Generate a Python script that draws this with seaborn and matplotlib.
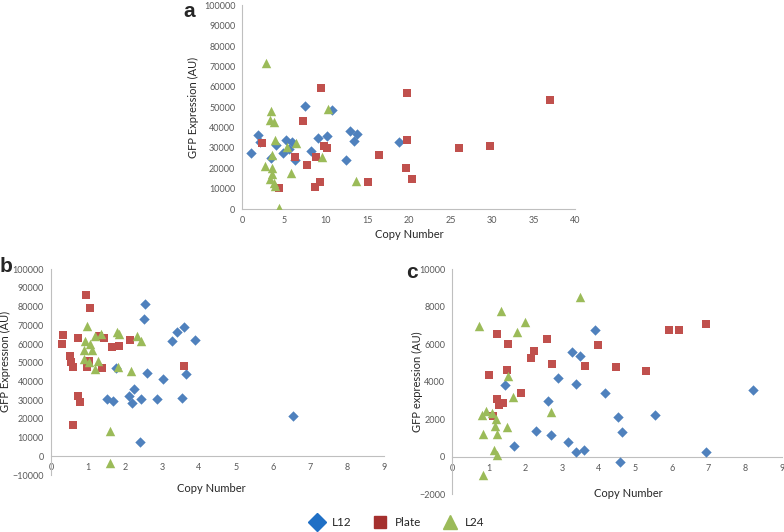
import pandas as pd
import numpy as np
import matplotlib
matplotlib.use("Agg")
import matplotlib.pyplot as plt
from matplotlib.lines import Line2D
from matplotlib.ticker import StrMethodFormatter
import seaborn as sns

# ---- data ----
series_names = ["L12", "Plate", "L24"]

# panel a
a_l12_x = [1.0, 1.9, 2.1, 3.4, 4.1, 4.9, 5.3, 5.6, 6.0, 6.3, 7.5, 8.3, 9.1, 10.2, 10.8, 12.4, 12.9, 13.4, 13.8, 18.8]
a_l12_y = [27500, 36500, 33000, 25000, 31500, 27500, 34000, 29500, 33000, 24000, 50500, 28500, 35000, 35800, 48800, 24000, 38500, 33300, 36700, 33000]
a_plate_x = [2.4, 4.4, 6.3, 7.3, 7.8, 8.8, 8.7, 9.3, 9.4, 9.8, 10.2, 15.1, 16.4, 19.6, 19.8, 19.8, 20.4, 26.0, 29.7, 37.0]
a_plate_y = [32500, 10500, 25500, 43000, 21500, 25600, 10700, 13500, 59500, 31000, 30200, 13500, 26500, 20000, 33800, 56800, 14900, 30000, 30800, 53300]
a_l24_x = [2.9, 2.7, 3.4, 3.3, 3.8, 3.9, 3.6, 3.6, 3.3, 3.6, 3.8, 3.9, 4.4, 5.4, 6.5, 5.8, 9.6, 10.3, 13.6]
a_l24_y = [71500, 21000, 48000, 43500, 42500, 34000, 26300, 20000, 14800, 17100, 13000, 11100, 500, 30500, 32500, 17500, 25500, 49000, 13700]

# panel b
b_l12_x = [1.52, 1.68, 1.75, 2.10, 2.20, 2.23, 2.41, 2.44, 2.50, 2.53, 2.59, 2.87, 3.03, 3.28, 3.41, 3.54, 3.59, 3.65, 3.90, 6.53]
b_l12_y = [30700, 29800, 47300, 32500, 28600, 35900, 7800, 30900, 73200, 81200, 44800, 30700, 41400, 61600, 66400, 31400, 69300, 43900, 62300, 21800]
b_plate_x = [0.30, 0.33, 0.51, 0.55, 0.60, 0.60, 0.72, 0.74, 0.78, 0.95, 0.96, 1.03, 1.05, 1.30, 1.37, 1.42, 1.66, 1.84, 2.13, 3.60]
b_plate_y = [60000, 65000, 53500, 50500, 47500, 16800, 63000, 32500, 29000, 86200, 48000, 50800, 79300, 64500, 47000, 63000, 58200, 59200, 62300, 48500]
b_l24_x = [0.97, 0.91, 0.89, 0.90, 1.05, 1.11, 1.04, 1.19, 1.18, 1.27, 1.36, 1.79, 1.85, 1.81, 1.60, 1.59, 2.17, 2.32, 2.44]
b_l24_y = [69600, 61800, 56800, 52000, 60000, 56800, 50600, 64300, 46500, 50800, 65200, 66600, 65400, 48000, 13300, -3700, 45500, 64500, 61500]

# panel c
c_l12_x = [1.44, 1.68, 2.28, 2.69, 2.61, 2.88, 3.17, 3.28, 3.38, 3.39, 3.48, 3.61, 3.89, 4.17, 4.52, 4.64, 4.58, 5.53, 6.92, 8.23]
c_l12_y = [3850, 550, 1390, 1180, 2960, 4220, 800, 5560, 270, 3870, 5370, 370, 6740, 3390, 2100, 1300, -285, 2210, 250, 3570]
c_plate_x = [1.00, 1.11, 1.23, 1.23, 1.27, 1.38, 1.49, 1.51, 1.87, 2.14, 2.23, 2.60, 2.71, 3.63, 3.98, 4.46, 5.30, 5.93, 6.20, 6.94]
c_plate_y = [4350, 2160, 6520, 3080, 2780, 2850, 4600, 6020, 3400, 5280, 5650, 6290, 4940, 4850, 5940, 4800, 4550, 6770, 6770, 7080]
c_l24_x = [0.73, 1.33, 1.78, 1.99, 1.52, 1.65, 1.50, 0.80, 0.91, 1.07, 1.20, 0.85, 1.17, 1.23, 1.14, 1.22, 0.84, 2.70, 3.50]
c_l24_y = [6950, 7770, 6670, 7170, 4310, 3170, 1590, 2210, 2440, 2350, 2010, 1210, 1620, 1210, 370, 90, -960, 2390, 8520]

colors = {"L12": "#4F81BD", "Plate": "#C0504D", "L24": "#9BBB59"}
markers = {"L12": "D", "Plate": "s", "L24": "^"}
sizes = {"L12": 28, "Plate": 36, "L24": 46}


def make_df(l12, plate, l24):
    parts = []
    for name, (xs, ys) in zip(series_names, [l12, plate, l24]):
        parts.append(pd.DataFrame({"copy": xs, "gfp": ys, "series": name}))
    return pd.concat(parts, ignore_index=True)


def draw_panel(ax, df, xlim, xstep, ylim, ystep, ylabel, letter, letter_pos,
               xlabel_pos, ylabel_pos, zero_axis):
    for name in series_names:
        sub = df[df["series"] == name]
        sns.scatterplot(data=sub, x="copy", y="gfp", ax=ax, color=colors[name],
                        marker=markers[name], s=sizes[name], linewidth=0,
                        legend=False, zorder=3)
    ax.set_xlim(*xlim)
    ax.set_ylim(*ylim)
    ax.set_xticks(np.arange(xlim[0], xlim[1] + 0.1, xstep))
    ax.set_yticks(np.arange(ylim[0], ylim[1] + 1, ystep))
    ax.yaxis.set_major_formatter(StrMethodFormatter("{x:.0f}"))
    ax.xaxis.set_major_formatter(StrMethodFormatter("{x:.0f}"))
    for side in ["top", "right"]:
        ax.spines[side].set_visible(False)
    for side in ["left", "bottom"]:
        ax.spines[side].set_color("#BFBFBF")
        ax.spines[side].set_linewidth(0.8)
    if zero_axis:
        ax.spines["bottom"].set_position(("data", 0))
    ax.tick_params(axis="both", direction="out", length=3, width=0.7,
                   color="#BFBFBF", labelsize=6.5, labelcolor="#595959", pad=2)
    ax.set_xlabel("Copy Number", fontsize=8, color="#262626")
    ax.set_ylabel(ylabel, fontsize=8, color="#262626")
    ax.xaxis.set_label_coords(*xlabel_pos)
    ax.yaxis.set_label_coords(*ylabel_pos)
    ax.grid(False)
    ax.text(letter_pos[0], letter_pos[1], letter, transform=ax.figure.transFigure,
            fontsize=15, fontweight="bold", ha="left", va="center",
            family=["Liberation Sans", "DejaVu Sans"])


def main():
    sns.set_style("white")
    plt.rcParams["font.family"] = ["Lato", "DejaVu Sans"]

    fig = plt.figure(figsize=(7.84, 5.32), dpi=100)
    ax_a = fig.add_axes([0.309, 0.607, 0.425, 0.383])
    ax_b = fig.add_axes([0.065, 0.107, 0.425, 0.387])
    ax_c = fig.add_axes([0.577, 0.071, 0.420, 0.423])

    df_a = make_df((a_l12_x, a_l12_y), (a_plate_x, a_plate_y), (a_l24_x, a_l24_y))
    df_b = make_df((b_l12_x, b_l12_y), (b_plate_x, b_plate_y), (b_l24_x, b_l24_y))
    df_c = make_df((c_l12_x, c_l12_y), (c_plate_x, c_plate_y), (c_l24_x, c_l24_y))

    draw_panel(ax_a, df_a, (0, 40), 5, (0, 100000), 10000, "GFP Expression (AU)",
               "a", (0.234, 0.978), (0.5, -0.10), (-0.13, 0.5), False)
    draw_panel(ax_b, df_b, (0, 9), 1, (-10000, 100000), 10000, "GFP Expression (AU)",
               "b", (0.0, 0.499), (0.48, -0.04), (-0.12, 0.55), True)
    draw_panel(ax_c, df_c, (0, 9), 1, (-2000, 10000), 2000, "GFP expression (AU)",
               "c", (0.518, 0.488), (0.535, 0.027), (-0.09, 0.5), True)

    handles = [Line2D([], [], linestyle="none", marker=markers[n], color=colors[n],
                      markersize=9 if n != "L24" else 10, label=n) for n in series_names]
    handles[0].set_color("#1F6FC5")
    handles[1].set_color("#A5302E")
    fig.legend(handles=handles, loc="center", bbox_to_anchor=(0.505, 0.018), ncol=3,
               frameon=False, fontsize=8.5, handletextpad=0.5, handlelength=1.6,
               columnspacing=1.6)

    fig.savefig("out.png", dpi=100)


if __name__ == "__main__":
    main()
